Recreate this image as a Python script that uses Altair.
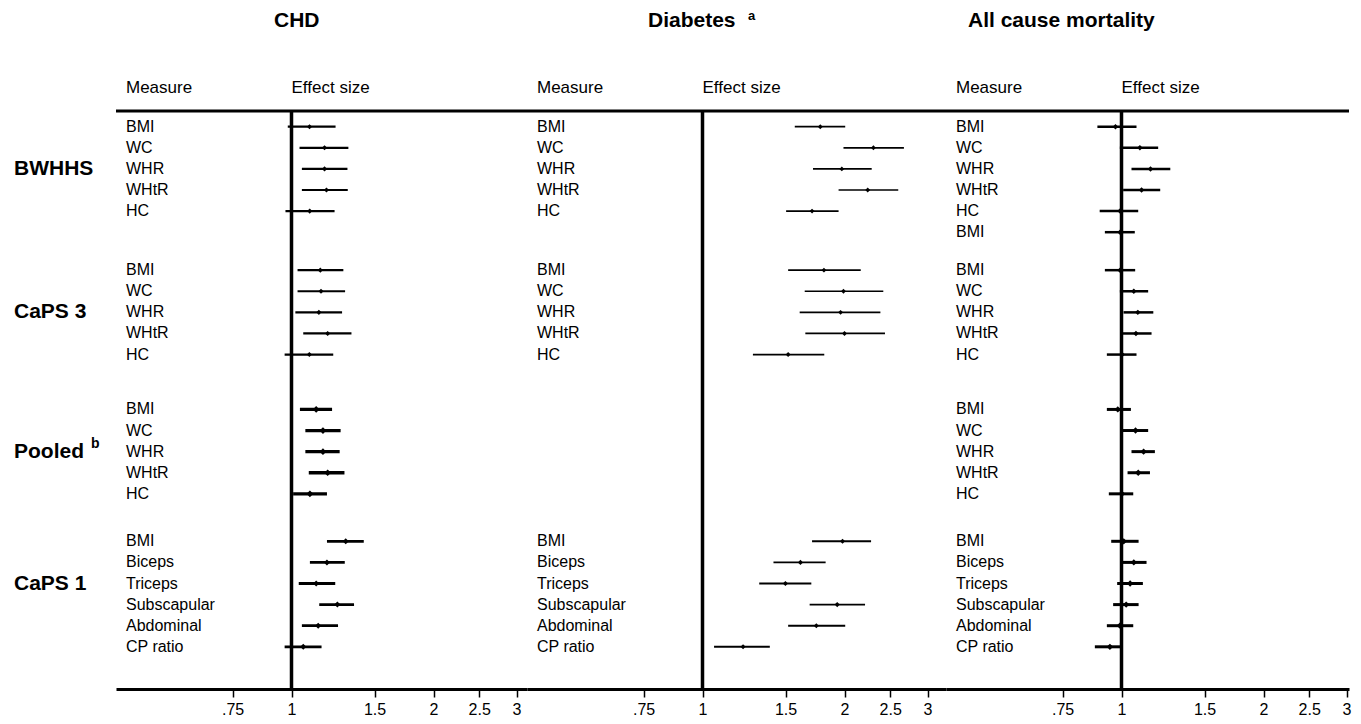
import altair as alt
import pandas as pd

FONT = "Liberation Sans"

# ---------------- data ----------------
OUTCOMES = ["CHD", "Diabetes", "All cause mortality"]
OUTCOME_SUP = ["", "a", ""]
GROUPS = ["BWHHS", "CaPS 3", "Pooled", "CaPS 1"]
GROUP_SUP = ["", "", "b", ""]

MEAS_STD = ["BMI", "WC", "WHR", "WHtR", "HC"]
MEAS_ACM_BWHHS = ["BMI", "WC", "WHR", "WHtR", "HC", "BMI"]
MEAS_CAPS1 = ["BMI", "Biceps", "Triceps", "Subscapular", "Abdominal", "CP ratio"]

TICKS = [0.75, 1, 1.5, 2, 2.5, 3]

# CHD
CHD_BWHHS_EST = [1.092, 1.175, 1.175, 1.186, 1.093]
CHD_BWHHS_LO = [0.982, 1.040, 1.052, 1.052, 0.971]
CHD_BWHHS_HI = [1.240, 1.320, 1.314, 1.316, 1.234]
CHD_CAPS3_EST = [1.151, 1.155, 1.143, 1.193, 1.091]
CHD_CAPS3_LO = [1.030, 1.030, 1.019, 1.059, 0.967]
CHD_CAPS3_HI = [1.288, 1.299, 1.280, 1.340, 1.226]
CHD_POOLED_EST = [1.128, 1.166, 1.166, 1.193, 1.094]
CHD_POOLED_LO = [1.042, 1.070, 1.070, 1.088, 1.008]
CHD_POOLED_HI = [1.219, 1.271, 1.265, 1.295, 1.189]
CHD_CAPS1_EST = [1.303, 1.189, 1.128, 1.251, 1.139, 1.059]
CHD_CAPS1_LO = [1.189, 1.094, 1.036, 1.145, 1.052, 0.967]
CHD_CAPS1_HI = [1.423, 1.297, 1.238, 1.357, 1.255, 1.158]

# Diabetes
DIA_BWHHS_EST = [1.777, 2.303, 1.974, 2.240, 1.707]
DIA_BWHHS_LO = [1.569, 1.990, 1.715, 1.943, 1.504]
DIA_BWHHS_HI = [2.007, 2.673, 2.284, 2.600, 1.943]
DIA_CAPS3_EST = [1.809, 1.990, 1.962, 2.000, 1.519]
DIA_CAPS3_LO = [1.519, 1.647, 1.607, 1.652, 1.279]
DIA_CAPS3_HI = [2.165, 2.417, 2.383, 2.437, 1.812]
DIA_CAPS1_EST = [1.981, 1.613, 1.499, 1.930, 1.743, 1.219]
DIA_CAPS1_LO = [1.707, 1.414, 1.319, 1.687, 1.519, 1.058]
DIA_CAPS1_HI = [2.277, 1.824, 1.701, 2.211, 2.007, 1.389]

# All cause mortality
ACM_BWHHS_EST = [0.971, 1.094, 1.152, 1.103, 0.993, 0.993]
ACM_BWHHS_LO = [0.889, 0.992, 1.050, 1.008, 0.899, 0.922]
ACM_BWHHS_HI = [1.076, 1.196, 1.269, 1.208, 1.085, 1.067]
ACM_CAPS3_EST = [0.993, 1.062, 1.083, 1.073, 1.003]
ACM_CAPS3_LO = [0.922, 0.992, 1.010, 1.005, 0.931]
ACM_CAPS3_HI = [1.069, 1.139, 1.168, 1.158, 1.076]
ACM_POOLED_EST = [0.982, 1.071, 1.114, 1.085, 1.002]
ACM_POOLED_LO = [0.931, 1.003, 1.050, 1.030, 0.940]
ACM_POOLED_HI = [1.047, 1.139, 1.177, 1.149, 1.059]
ACM_CAPS1_EST = [1.011, 1.062, 1.043, 1.023, 0.992, 0.945]
ACM_CAPS1_LO = [0.951, 1.003, 0.979, 0.960, 0.931, 0.878]
ACM_CAPS1_HI = [1.087, 1.130, 1.110, 1.087, 1.059, 1.003]

PANELS = [
    [("BWHHS", MEAS_STD, CHD_BWHHS_EST, CHD_BWHHS_LO, CHD_BWHHS_HI),
     ("CaPS 3", MEAS_STD, CHD_CAPS3_EST, CHD_CAPS3_LO, CHD_CAPS3_HI),
     ("Pooled", MEAS_STD, CHD_POOLED_EST, CHD_POOLED_LO, CHD_POOLED_HI),
     ("CaPS 1", MEAS_CAPS1, CHD_CAPS1_EST, CHD_CAPS1_LO, CHD_CAPS1_HI)],
    [("BWHHS", MEAS_STD, DIA_BWHHS_EST, DIA_BWHHS_LO, DIA_BWHHS_HI),
     ("CaPS 3", MEAS_STD, DIA_CAPS3_EST, DIA_CAPS3_LO, DIA_CAPS3_HI),
     ("CaPS 1", MEAS_CAPS1, DIA_CAPS1_EST, DIA_CAPS1_LO, DIA_CAPS1_HI)],
    [("BWHHS", MEAS_ACM_BWHHS, ACM_BWHHS_EST, ACM_BWHHS_LO, ACM_BWHHS_HI),
     ("CaPS 3", MEAS_STD, ACM_CAPS3_EST, ACM_CAPS3_LO, ACM_CAPS3_HI),
     ("Pooled", MEAS_STD, ACM_POOLED_EST, ACM_POOLED_LO, ACM_POOLED_HI),
     ("CaPS 1", MEAS_CAPS1, ACM_CAPS1_EST, ACM_CAPS1_LO, ACM_CAPS1_HI)],
]

# ---------------- layout / style ----------------
GROUP_ROW = [0, 6.8, 13.4, 19.65]        # first row of each study block (row units)
Y_DOMAIN = [-0.744, 26.65]
PLOT_H = 578
PANEL_W = [411, 419, 403]
LEFT_EXT = 175.5                         # px left of the "1" line
PX_PER_DOUBLING = 142
TITLE_X = [158, 121, 22]
SUP_X = [0, 221, 0]
LINE_W = [[2.2, 2.2, 3.3, 2.8], [1.7, 1.7, 1.7, 1.9], [2.5, 2.5, 3.0, 3.0]]
PT_SIZE = [[26, 26, 45, 36], [24, 24, 24, 26], [30, 30, 40, 40]]

y_scale = alt.Scale(domain=Y_DOMAIN, reverse=True, nice=False, zero=False)


def Y(field):
    return alt.Y(field, scale=y_scale, axis=None)


def panel(k):
    w = PANEL_W[k]
    xmin = 2 ** (-LEFT_EXT / PX_PER_DOUBLING)
    xmax = 2 ** ((w - LEFT_EXT) / PX_PER_DOUBLING)
    xs = alt.Scale(type="log", domain=[xmin, xmax], nice=False)
    rows = []
    for (g, meas, est, lo, hi) in PANELS[k]:
        gi = GROUPS.index(g)
        for i, m in enumerate(meas):
            rows.append({"group": g, "measure": m, "pos": GROUP_ROW[gi] + i,
                         "est": est[i], "lo": lo[i], "hi": hi[i],
                         "lw": LINE_W[k][gi], "ps": PT_SIZE[k][gi]})
    df = pd.DataFrame(rows)

    axis = alt.Axis(values=TICKS, labelExpr="replace(toString(datum.value), '0.', '.')",
                    domainColor="black", domainWidth=3, tickColor="black", tickWidth=1.5,
                    tickSize=8, labelFontSize=16, labelFont=FONT, labelColor="black",
                    labelPadding=4, grid=False, title=None, labelFlush=False,
                    labelOverlap=False)

    base = alt.Chart(df)
    bars = base.mark_rule(color="black").encode(
        x=alt.X("lo:Q", scale=xs, axis=axis),
        x2="hi:Q",
        y=Y("pos:Q"),
        strokeWidth=alt.StrokeWidth("lw:Q", scale=None),
    )
    pts = base.mark_point(shape="diamond", filled=True, color="black", opacity=1).encode(
        x=alt.X("est:Q", scale=xs, axis=axis),
        y=Y("pos:Q"),
        size=alt.Size("ps:Q", scale=None),
    )
    labels = base.mark_text(align="left", baseline="middle", font=FONT, fontSize=16,
                            color="black").encode(
        x=alt.value(10), y=Y("pos:Q"), text="measure:N")

    ref = alt.Chart(pd.DataFrame({"v": [1]})).mark_rule(color="black", strokeWidth=3.5).encode(
        x=alt.X("v:Q", scale=xs, axis=axis), y=alt.value(0), y2=alt.value(PLOT_H))
    top = alt.Chart(pd.DataFrame({"v": [1]})).mark_rule(color="black", strokeWidth=3).encode(
        x=alt.value(0), x2=alt.value(w), y=alt.value(0))

    hdr_m = alt.Chart(pd.DataFrame({"t": ["Measure"]})).mark_text(
        align="left", baseline="alphabetic", font=FONT, fontSize=17, color="black").encode(
        x=alt.value(10), y=alt.value(-18.5), text="t:N")
    hdr_e = alt.Chart(pd.DataFrame({"t": ["Effect size"], "v": [1]})).mark_text(
        align="left", baseline="alphabetic", font=FONT, fontSize=17, color="black").encode(
        x=alt.X("v:Q", scale=xs, axis=axis), y=alt.value(-18.5), text="t:N")
    ttl = alt.Chart(pd.DataFrame({"t": [OUTCOMES[k]]})).mark_text(
        align="left", baseline="alphabetic", font=FONT, fontSize=21, fontWeight="bold",
        color="black").encode(x=alt.value(TITLE_X[k]), y=alt.value(-84), text="t:N")

    layers = [top, ref, bars, pts, labels, hdr_m, hdr_e, ttl]

    if OUTCOME_SUP[k]:
        sup = alt.Chart(pd.DataFrame({"t": [OUTCOME_SUP[k]]})).mark_text(
            align="left", baseline="middle", font=FONT, fontSize=13, fontWeight="bold",
            color="black").encode(x=alt.value(SUP_X[k]), y=alt.value(-95), text="t:N")
        layers.append(sup)

    if k == 0:
        gdf = pd.DataFrame({"g": GROUPS, "sup": GROUP_SUP,
                            "pos": [r + 2 for r in GROUP_ROW]})
        glab = alt.Chart(gdf).mark_text(
            align="left", baseline="middle", font=FONT, fontSize=21, fontWeight="bold",
            color="black").encode(x=alt.value(-102), y=Y("pos:Q"), text="g:N")
        gsup = alt.Chart(gdf[gdf["sup"] != ""]).mark_text(
            align="left", baseline="middle", font=FONT, fontSize=14, fontWeight="bold",
            color="black", dy=-8).encode(x=alt.value(-25), y=Y("pos:Q"), text="sup:N")
        layers += [glab, gsup]

    return alt.layer(*layers).properties(
        width=w, height=PLOT_H, view=alt.ViewBackground(stroke=None, strokeWidth=0))


chart = alt.hconcat(panel(0), panel(1), panel(2), spacing=0, bounds="flush").properties(
    padding={"left": 6, "top": 2, "right": 0, "bottom": 0}
).configure_view(strokeWidth=0, stroke=None).configure_axis(
    grid=False, gridColor="transparent").configure_axisY(disable=True).configure(
    background="white")

chart.save("out.html", embed_options={"renderer": "svg", "actions": False})
